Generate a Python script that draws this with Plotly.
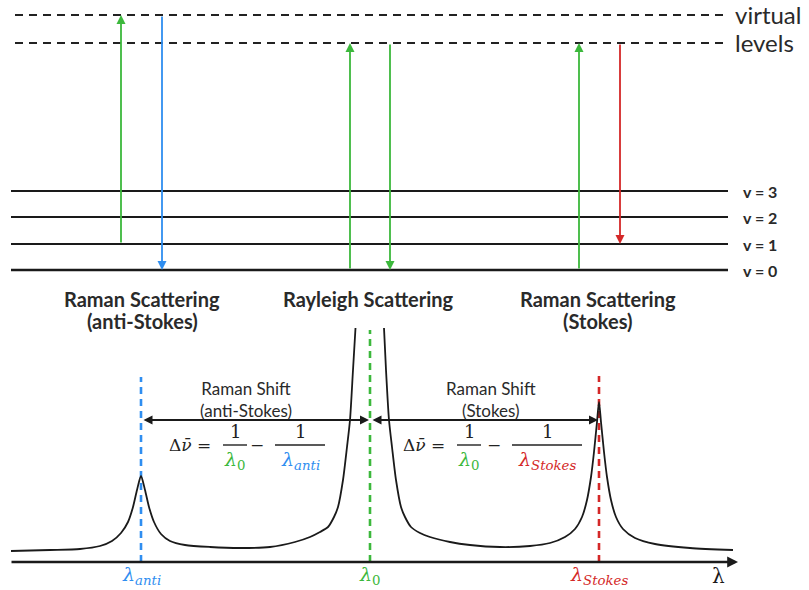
import plotly.graph_objects as go

# ---------------- data ----------------
# energy-level diagram (arbitrary energy units)
level_names = ["v = 0", "v = 1", "v = 2", "v = 3"]
level_energy = [0, 26, 53, 79]
virtual_energy = [255, 227]
virtual_labels = ["virtual", "levels"]
level_span = [11, 728]
virtual_span = [15, 726]

# transitions: x position, start level, end level, kind
transition_x = [121, 162, 350, 390, 579, 620]
transition_from = [26, 255, 0, 227, 0, 227]
transition_to = [255, 0, 227, 0, 227, 26]
transition_kind = ["laser", "anti", "laser", "laser", "laser", "stokes"]

# spectrum: line positions (wavelength axis, arbitrary units)
line_names = ["anti", "laser", "stokes"]
line_x = [141, 370, 599]
line_top = [185, 232, 186]

# spectrum curve (intensity, arbitrary units)
spec_x = [11, 50, 80, 100, 112, 121, 128, 133, 137, 141, 145, 149, 154, 161, 170, 185,
          210, 240, 270, 295, 310, 320, 328, 334, 338, 343, 347, 350, 353, 355.5,
          None,
          384, 386, 389, 392, 396, 401, 405, 411, 420, 430, 450, 470, 500, 530, 550,
          565, 575, 582, 587, 591, 594, 597, 599, 601, 604, 607, 611, 616, 623, 635,
          655, 690, 733]
spec_y = [11, 12, 13, 16, 21, 29, 40, 55, 72, 86, 72, 55, 40, 28, 21, 17,
          15, 14, 15, 20, 25, 30, 35, 45, 55, 82, 115, 142, 192, 234,
          None,
          234, 192, 142, 115, 82, 55, 45, 35, 29, 25, 20, 17, 15, 16, 19,
          25, 33, 45, 62, 85, 110, 140, 160, 140, 110, 85, 62, 45, 33, 24,
          18, 14, 12]

axis_span = [10, 738]
shift_level = 142

# ---------------- style ----------------
GREEN = "#3cb83c"
BLUE = "#2f8ef0"
RED = "#d42828"
kind_color = {"laser": GREEN, "anti": BLUE, "stokes": RED}
line_color = {"anti": BLUE, "laser": GREEN, "stokes": RED}
TXT = "#2a2a2a"
SANS = "Lato, 'Open Sans', sans-serif"
SERIF = "'DejaVu Serif', serif"

fig = go.Figure()

# vibrational levels
for e, w in zip(level_energy, [2.6, 1.8, 1.8, 1.8]):
    fig.add_trace(go.Scatter(x=level_span, y=[e, e], mode="lines",
                             line=dict(color="#1a1a1a", width=w),
                             xaxis="x", yaxis="y", hoverinfo="skip"))
# virtual levels
for e in virtual_energy:
    fig.add_trace(go.Scatter(x=virtual_span, y=[e, e], mode="lines",
                             line=dict(color="#222", width=1.8, dash="8px,6px"),
                             xaxis="x", yaxis="y", hoverinfo="skip"))

annotations = []
# level labels
for name, e in zip(level_names, level_energy):
    annotations.append(dict(x=741, y=e, xref="x", yref="y", text="<b>" + name + "</b>",
                            showarrow=False, xanchor="left", yanchor="middle",
                            font=dict(family=SANS, size=16, color=TXT)))
for name, e in zip(virtual_labels, virtual_energy):
    annotations.append(dict(x=733, y=e + 1, xref="x", yref="y", text=name,
                            showarrow=False, xanchor="left", yanchor="middle",
                            font=dict(family=SANS, size=24, color=TXT)))

# transition arrows
for x, e0, e1, k in zip(transition_x, transition_from, transition_to, transition_kind):
    annotations.append(dict(x=x, y=e1, ax=x, ay=e0, xref="x", yref="y",
                            axref="x", ayref="y", showarrow=True,
                            arrowhead=2, arrowsize=1.0, arrowwidth=1.8,
                            arrowcolor=kind_color[k], standoff=0, text=""))

# spectrum dashed marker lines
for n, x, t in zip(line_names, line_x, line_top):
    fig.add_trace(go.Scatter(x=[x, x], y=[0, t], mode="lines",
                             line=dict(color=line_color[n], width=2.6, dash="7px,5px"),
                             xaxis="x", yaxis="y2", hoverinfo="skip"))

# spectrum curve
fig.add_trace(go.Scatter(x=spec_x, y=spec_y, mode="lines", connectgaps=False,
                         line=dict(color="#1a1a1a", width=1.8, shape="spline", smoothing=0.7),
                         xaxis="x", yaxis="y2", hoverinfo="skip"))

# wavelength axis arrow
annotations.append(dict(x=axis_span[1], y=0, ax=axis_span[0], ay=0, xref="x", yref="y2",
                        axref="x", ayref="y2", showarrow=True, arrowhead=2,
                        arrowsize=0.9, arrowwidth=2.4, arrowcolor="#1a1a1a",
                        standoff=0, text=""))
annotations.append(dict(x=718, y=-14, xref="x", yref="y2", text="λ", showarrow=False,
                        yanchor="middle", font=dict(family=SERIF, size=20, color="#1a1a1a")))

# Raman shift double arrows
for a, b in [(line_x[0], line_x[1]), (line_x[1], line_x[2])]:
    annotations.append(dict(x=b - 1, y=shift_level, ax=a + 1, ay=shift_level,
                            xref="x", yref="y2", axref="x", ayref="y2",
                            showarrow=True, arrowhead=2, startarrowhead=2,
                            arrowside="end+start", arrowsize=1.0, startarrowsize=1.0,
                            arrowwidth=1.8, arrowcolor="#1a1a1a", standoff=0,
                            startstandoff=0, text=""))

# Raman shift labels (two lines in one text block)
for cx, sub in [(246, "(anti-Stokes)"), (491, "(Stokes)")]:
    annotations.append(dict(x=cx, y=163, xref="x", yref="y2",
                            text="Raman Shift<br>" + sub,
                            showarrow=False, yanchor="middle", align="center",
                            font=dict(family=SANS, size=17, color=TXT)))

# formulas
formulas = [
    dict(d=190, f1=235, m=257, f2=300, w1=24, w2=50,
         den2="<i>λ</i><sub><i>anti</i></sub>", c2=BLUE),
    dict(d=424, f1=469, m=494, f2=547, w1=24, w2=70,
         den2="<i>λ</i><sub><i>Stokes</i></sub>", c2=RED),
]
bar_y = 117
for f in formulas:
    annotations.append(dict(x=f["d"], y=bar_y, xref="x", yref="y2",
                            text="Δ<i>ν\u0304</i> =", showarrow=False, yanchor="middle",
                            font=dict(family=SERIF, size=17, color="#222")))
    annotations.append(dict(x=f["m"], y=bar_y, xref="x", yref="y2", text="−",
                            showarrow=False, yanchor="middle",
                            font=dict(family=SERIF, size=17, color="#222")))
    for cx, w, den, col in [(f["f1"], f["w1"], "<i>λ</i><sub>0</sub>", GREEN),
                            (f["f2"], f["w2"], f["den2"], f["c2"])]:
        fig.add_trace(go.Scatter(x=[cx - w / 2, cx + w / 2], y=[bar_y, bar_y], mode="lines",
                                 line=dict(color="#222", width=1.4),
                                 xaxis="x", yaxis="y2", hoverinfo="skip"))
        annotations.append(dict(x=cx, y=bar_y + 1, xref="x", yref="y2", text="1",
                                showarrow=False, yanchor="bottom",
                                font=dict(family=SERIF, size=18, color="#222")))
        annotations.append(dict(x=cx, y=bar_y - 1, xref="x", yref="y2", text=den,
                                showarrow=False, yanchor="top",
                                font=dict(family=SERIF, size=19, color=col)))

# wavelength labels under axis
for n, x, lab in zip(line_names, line_x,
                     ["<i>λ</i><sub><i>anti</i></sub>", "<i>λ</i><sub>0</sub>",
                      "<i>λ</i><sub><i>Stokes</i></sub>"]):
    annotations.append(dict(x=x, y=-13, xref="x", yref="y2", text=lab, showarrow=False,
                            yanchor="middle", font=dict(family=SERIF, size=19, color=line_color[n])))

# scattering titles
for x, l1, l2 in [(142, "Raman Scattering", "(anti-Stokes)"),
                  (368, "Rayleigh Scattering", None),
                  (598, "Raman Scattering", "(Stokes)")]:
    annotations.append(dict(x=x, y=263, xref="x", yref="y2", text="<b>" + l1 + "</b>",
                            showarrow=False, yanchor="middle",
                            font=dict(family=SANS, size=20, color=TXT)))
    if l2:
        annotations.append(dict(x=x, y=241, xref="x", yref="y2", text="<b>" + l2 + "</b>",
                                showarrow=False, yanchor="middle",
                                font=dict(family=SANS, size=20, color=TXT)))

fig.update_layout(
    width=809, height=590,
    margin=dict(l=0, r=0, t=0, b=0),
    paper_bgcolor="white", plot_bgcolor="white",
    showlegend=False,
    xaxis=dict(range=[0, 809], visible=False, fixedrange=True, anchor="y2"),
    yaxis=dict(domain=[0.5, 1], range=[-25, 270], visible=False, anchor="x"),
    yaxis2=dict(domain=[0, 0.5], range=[-28, 267], visible=False, anchor="x"),
    annotations=annotations,
)

fig.write_html("out.html")
